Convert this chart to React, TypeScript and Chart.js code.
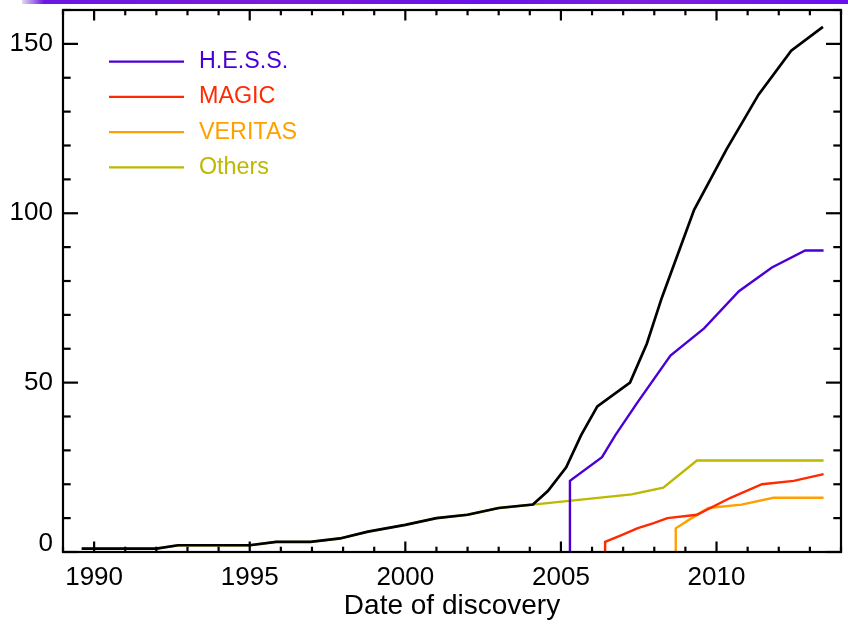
import React, { useEffect, useRef } from 'react';
import { Chart, registerables } from 'chart.js';

Chart.register(...registerables);

const FONT = "'Liberation Sans', Arial, Helvetica, sans-serif";

// Cumulative number of TeV sources against discovery date
const totalYears = [1989.6, 1992.0, 1992.7, 1995.0, 1995.85, 1996.95, 1997.9, 1998.8, 2000.0, 2001.0, 2002.0, 2003.0, 2004.1, 2004.58, 2005.17, 2005.65, 2006.17, 2007.22, 2007.76, 2008.24, 2009.28, 2010.33, 2011.35, 2012.4, 2013.42];
const totalCounts = [1, 1, 2, 2, 3, 3, 4, 6, 8, 10, 11, 13, 14, 18, 25, 34.5, 43, 50, 61.5, 75, 101, 119, 135, 148, 155];

const hessYears = [2005.29, 2005.29, 2006.32, 2006.75, 2007.45, 2008.52, 2009.6, 2010.72, 2011.78, 2012.85, 2013.44];
const hessCounts = [0, 21, 28, 34.5, 44, 58, 66, 77, 84, 89, 89];

const magicYears = [2006.42, 2006.42, 2006.95, 2007.45, 2007.98, 2008.42, 2009.37, 2010.45, 2011.46, 2012.48, 2013.44];
const magicCounts = [0, 3, 5, 7, 8.5, 10, 11, 16, 20, 21, 23];

const veritasYears = [2008.69, 2008.69, 2009.2, 2009.74, 2010.8, 2011.83, 2013.44];
const veritasCounts = [0, 7, 10, 13, 14, 16, 16];

const othersYears = [1989.6, 1992.0, 1992.7, 1995.0, 1995.85, 1996.95, 1997.9, 1998.8, 2000.0, 2001.0, 2002.0, 2003.0, 2004.1, 2007.27, 2008.29, 2009.37, 2013.44];
const othersCounts = [1, 1, 2, 2, 3, 3, 4, 6, 8, 10, 11, 13, 14, 17, 19, 27, 27];

const xRange = [1989, 2014];
const yRange = [0, 160];
const xTitle = 'Date of discovery';

const toPoints = (xs: number[], ys: number[]) => xs.map((x, i) => ({ x, y: ys[i] }));

// Box frame with inward ticks on all four sides (IDL style)
const framePlugin = {
  id: 'frame',
  afterDatasetsDraw(chart: any) {
    const { ctx, chartArea: a, scales } = chart;
    ctx.save();
    ctx.strokeStyle = '#000';
    ctx.lineWidth = 2.2;
    ctx.strokeRect(a.left, a.top, a.right - a.left, a.bottom - a.top);
    const seg = (x1: number, y1: number, x2: number, y2: number) => {
      ctx.beginPath();
      ctx.moveTo(x1, y1);
      ctx.lineTo(x2, y2);
      ctx.stroke();
    };
    const xs = scales.x;
    xs.ticks.forEach((t: any) => {
      const px = xs.getPixelForValue(t.value);
      const len = Math.round(t.value) % 5 === 0 ? 10.5 : 5.3;
      seg(px, a.bottom, px, a.bottom - len);
      seg(px, a.top, px, a.top + len);
    });
    const ys = scales.y;
    ys.ticks.forEach((t: any) => {
      const py = ys.getPixelForValue(t.value);
      const len = Math.round(t.value) % 50 === 0 ? 15 : 7.7;
      seg(a.left, py, a.left + len, py);
      seg(a.right, py, a.right - len, py);
    });
    ctx.restore();
  },
};

// Legend drawn inside the plot area, top-left
const insetLegendPlugin = {
  id: 'insetLegend',
  afterDraw(chart: any) {
    const { ctx, chartArea: a } = chart;
    const items = chart.data.datasets.filter((d: any) => !d.hideInLegend);
    ctx.save();
    ctx.font = `23.3px ${FONT}`;
    ctx.textAlign = 'left';
    ctx.textBaseline = 'middle';
    items.forEach((ds: any, i: number) => {
      const y = a.top + 51.7 + i * 35.2;
      ctx.strokeStyle = ds.borderColor;
      ctx.lineWidth = 2.3;
      ctx.beginPath();
      ctx.moveTo(a.left + 46, y);
      ctx.lineTo(a.left + 121, y);
      ctx.stroke();
      ctx.fillStyle = ds.borderColor;
      ctx.fillText(ds.label, a.left + 136, y);
    });
    ctx.restore();
  },
};

export default function App() {
  const canvasRef = useRef<HTMLCanvasElement | null>(null);

  useEffect(() => {
    if (!canvasRef.current) return;
    const line = (label: string, color: string, xs: number[], ys: number[], extra: any = {}) => ({
      label,
      data: toPoints(xs, ys),
      borderColor: color,
      backgroundColor: color,
      borderWidth: 2.4,
      pointRadius: 0,
      tension: 0,
      fill: false,
      ...extra,
    });

    const chart = new Chart(canvasRef.current, {
      type: 'line',
      data: {
        datasets: [
          line('Total', '#000000', totalYears, totalCounts, { hideInLegend: true, borderWidth: 2.7 }),
          line('H.E.S.S.', '#4a00d4', hessYears, hessCounts),
          line('MAGIC', '#ff2a00', magicYears, magicCounts),
          line('VERITAS', '#ffa000', veritasYears, veritasCounts),
          line('Others', '#bdb800', othersYears, othersCounts),
        ],
      },
      options: {
        animation: false,
        responsive: false,
        devicePixelRatio: 1,
        layout: { padding: { left: 8, right: 7, top: 10, bottom: 0 } },
        plugins: {
          legend: { display: false },
          tooltip: { enabled: false },
        },
        scales: {
          x: {
            type: 'linear',
            min: xRange[0],
            max: xRange[1],
            grid: { display: false, drawTicks: true, tickLength: 10 },
            border: { display: false },
            ticks: {
              stepSize: 1,
              autoSkip: false,
              maxRotation: 0,
              padding: 0.5,
              color: '#000',
              font: { family: FONT, size: 26 },
              callback: (v: any) => (Math.round(v) % 5 === 0 ? String(Math.round(v)) : ''),
            },
            title: {
              display: true,
              text: xTitle,
              color: '#000',
              font: { family: FONT, size: 28 },
              padding: { top: 0, bottom: 0.8 },
            },
            afterFit: (s: any) => {
              s.height = 72;
              s.paddingLeft = 0;
              s.paddingRight = 0;
            },
          },
          y: {
            type: 'linear',
            min: yRange[0],
            max: yRange[1],
            grid: { display: false, drawTicks: false },
            border: { display: false },
            ticks: {
              stepSize: 10,
              autoSkip: false,
              padding: 10,
              color: '#000',
              font: (c: any) => ({
                family: FONT,
                size: 26,
                lineHeight: c.tick && c.tick.value === 0 ? 0.6 : 1.2,
              }),
              callback: (v: any) => {
                const n = Math.round(v);
                if (n === 0) return ['0', ''];
                return n % 50 === 0 ? String(n) : '';
              },
            },
            afterFit: (s: any) => {
              s.width = 55;
              s.paddingTop = 0;
              s.paddingBottom = 0;
            },
          },
        },
      },
      plugins: [framePlugin, insetLegendPlugin],
    } as any);
    return () => chart.destroy();
  }, []);

  return (
    <div style={{ position: 'fixed', left: 0, top: 0, width: 848, height: 624, background: '#fff', overflow: 'hidden' }}>
      <div
        style={{
          position: 'absolute',
          left: 22,
          top: 0,
          width: 826,
          height: 4,
          background:
            'linear-gradient(to right, rgba(170,150,210,0.35) 0px, #6c16e4 22px, #7a1cd8 30%, #6a10ea 55%, #7c20dc 75%, #6a0ff0 100%)',
        }}
      />
      <canvas ref={canvasRef} width={848} height={624} style={{ display: 'block' }} />
    </div>
  );
}
